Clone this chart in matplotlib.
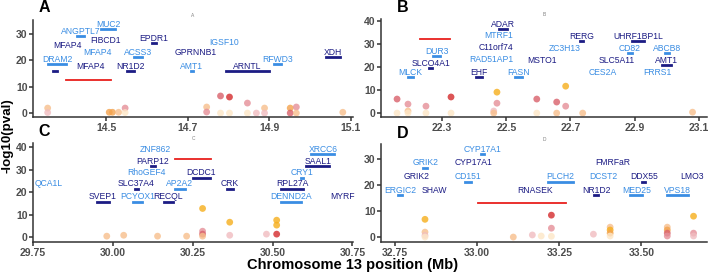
import numpy as np
import matplotlib
matplotlib.use("Agg")
import matplotlib.pyplot as plt

plt.rcParams['font.family'] = ['Liberation Sans', 'DejaVu Sans']

# ---- point colour groups ----
palette = {
    "pale": "#fde6c6",
    "lorange": "#f7bf8c",
    "orange": "#f3a24c",
    "gold": "#f6ae1c",
    "lpink": "#f0bcc0",
    "pink": "#e58f98",
    "rpink": "#d9616b",
    "red": "#d42a2c",
}
DARK = "#1c1c84"
LIGHT = "#3a8de3"

# ---- panel A: chr13 14.3-15.1 Mb ----
a_pt_x = [14.356, 14.356, 14.507, 14.515, 14.53, 14.546, 14.546, 14.746, 14.746, 14.78, 14.78,
          14.802, 14.802, 14.846, 14.846, 14.868, 14.888, 14.888, 14.951, 14.951, 14.966, 14.966, 15.08]
a_pt_y = [1.9, 0.2, 0.3, 0.3, 0.3, 1.9, 0.2, 2.3, 0.4, 6.5, 0.0,
          6.1, 0.0, 3.8, 0.0, 0.0, 1.9, 0.0, 1.9, 0.0, 2.3, 0.0, 0.3]
a_pt_g = ["lorange", "lpink", "orange", "orange", "lorange", "pink", "pale", "lorange", "pink", "rpink", "pale",
          "red", "pale", "pink", "pale", "lpink", "lorange", "lpink", "orange", "rpink", "pink", "lorange", "lorange"]
a_gene = ["ANGPTL7", "MUC2", "MFAP4", "FIBCD1", "MFAP4", "ACSS3", "EPDR1", "DRAM2", "", "MFAP4", "NR1D2",
          "GPRNNB1", "AMT1", "IGSF10", "ARNTL", "RFWD3", "XDH"]
a_start = [14.429, 14.488, 14.405, 14.498, 14.478, 14.568, 14.612, 14.356, 14.368, 14.461, 14.551,
           14.720, 14.707, 14.790, 14.793, 14.912, 15.039]
a_end = [14.446, 14.520, 14.405, 14.498, 14.478, 14.588, 14.622, 14.402, 14.380, 14.461, 14.568,
         14.720, 14.712, 14.790, 14.898, 14.929, 15.073]
a_level = [29.3, 31.8, 24.0, 25.9, 21.3, 21.3, 26.6, 18.6, 16.0, 16.0, 16.0,
           21.3, 16.0, 25.0, 16.0, 18.6, 21.3]
a_kind = ["L", "L", "D", "D", "L", "L", "D", "L", "D", "D", "D",
          "D", "L", "L", "D", "L", "D"]
a_region = (14.402, 14.512, 12.5)

# ---- panel B: chr13 22.1-23.1 Mb ----
b_pt_x = [22.16, 22.16, 22.194, 22.194, 22.194, 22.25, 22.25, 22.328, 22.328, 22.471, 22.471,
          22.461, 22.461, 22.595, 22.595, 22.657, 22.657, 22.685, 22.685, 22.738, 23.08]
b_pt_y = [6.1, 0.0, 3.9, 0.9, 0.0, 3.0, 0.0, 7.0, 0.0, 9.1, 4.3,
          0.9, 0.0, 6.1, 0.0, 4.8, 0.0, 11.7, 3.0, 0.0, 0.4]
b_pt_g = ["rpink", "pale", "pink", "lorange", "pale", "pink", "pale", "red", "pale", "gold", "pink",
          "lpink", "lorange", "rpink", "pale", "rpink", "lorange", "gold", "pink", "lorange", "lorange"]
b_gene = ["DUR3", "SLCO4A1", "MLCK", "ADAR", "MTRF1", "C11orf74", "RAD51AP1", "EHF", "FASN", "MSTO1",
          "RERG", "ZC3H13", "UHRF1BP1L", "CD82", "ABCB8", "SLC5A11", "AMT1", "CES2A", "FRRS1"]
b_start = [22.272, 22.260, 22.194, 22.477, 22.477, 22.468, 22.452, 22.406, 22.527, 22.610,
           22.729, 22.682, 22.890, 22.878, 22.993, 22.843, 22.986, 22.800, 22.971]
b_end = [22.294, 22.269, 22.210, 22.502, 22.477, 22.468, 22.452, 22.424, 22.548, 22.610,
         22.738, 22.682, 22.930, 22.893, 23.008, 22.843, 23.014, 22.800, 22.971]
b_level = [24.8, 19.6, 15.7, 36.5, 31.7, 26.5, 21.3, 15.7, 15.7, 20.9,
           31.3, 26.0, 31.3, 26.0, 26.0, 20.9, 20.9, 15.7, 15.7]
b_kind = ["L", "D", "L", "D", "L", "D", "L", "D", "L", "D",
          "D", "L", "D", "L", "L", "D", "D", "L", "L"]
b_region = (22.232, 22.325, 32.2)

# ---- panel C: chr13 29.75-30.75 Mb ----
c_pt_x = [29.981, 30.034, 30.14, 30.231, 30.281, 30.281, 30.281, 30.281, 30.366, 30.366,
          30.481, 30.513, 30.513, 30.513]
c_pt_y = [0.4, 0.8, 0.4, 0.4, 12.7, 2.6, 1.3, 0.4, 6.6, 0.8,
          1.3, 7.5, 5.3, 1.3]
c_pt_g = ["lorange", "lorange", "lorange", "lorange", "gold", "pink", "rpink", "lorange", "gold", "lpink",
          "lpink", "gold", "gold", "red"]
c_gene = ["QCA1L", "ZNF862", "PARP12", "RhoGEF4", "SLC37A4", "SVEP1", "PCYOX1", "RECQL", "AP2A2", "DCDC1",
          "CRK", "", "XRCC6", "SAAL1", "CRY1", "RPL27A", "DENND2A", "MYRF"]
c_start = [29.800, 30.134, 30.119, 30.106, 30.069, 29.950, 30.063, 30.160, 30.194, 30.250,
           30.356, 30.334, 30.622, 30.606, 30.590, 30.528, 30.525, 30.719]
c_end = [29.800, 30.134, 30.131, 30.106, 30.078, 29.988, 30.090, 30.188, 30.225, 30.303,
         30.375, 30.334, 30.694, 30.678, 30.597, 30.594, 30.588, 30.719]
c_level = [21.5, 36.9, 31.6, 26.4, 21.5, 15.8, 15.8, 15.8, 21.5, 26.4,
           21.5, 16.3, 36.9, 31.6, 26.4, 21.5, 15.8, 15.8]
c_kind = ["L", "L", "D", "L", "D", "D", "L", "D", "L", "D",
          "D", "L", "L", "D", "L", "D", "L", "D"]
c_region = (30.194, 30.306, 34.7)

# ---- panel D: chr13 32.7-33.7 Mb ----
d_pt_x = [32.841, 32.841, 32.841, 32.841, 33.11, 33.168, 33.195, 33.226, 33.226, 33.226, 33.354,
          33.405, 33.405, 33.405, 33.405, 33.579, 33.579, 33.579, 33.579, 33.659, 33.659, 33.659]
d_pt_y = [6.8, 1.9, 0.6, 0.0, 0.0, 0.8, 0.4, 8.4, 3.4, 0.3, 1.1,
          3.8, 2.7, 1.5, 0.4, 3.8, 2.7, 1.5, 0.4, 8.0, 1.5, 0.4]
d_pt_g = ["gold", "lorange", "lpink", "pale", "lorange", "lpink", "pale", "red", "pink", "pale", "lpink",
          "lorange", "gold", "orange", "pale", "lorange", "orange", "rpink", "pink", "gold", "pink", "lpink"]
d_gene = ["CYP17A1", "CYP17A1", "GRIK2", "GRIK2", "CD151", "ERGIC2", "SHAW", "RNASEK", "FMRFaR",
          "PLCH2", "DCST2", "DDX55", "LMO3", "NR1D2", "MED25", "VPS18"]
d_start = [33.012, 32.988, 32.835, 32.814, 32.963, 32.759, 32.869, 33.177, 33.412,
           33.216, 33.384, 33.503, 33.655, 33.357, 33.466, 33.579]
d_end = [33.021, 32.988, 32.848, 32.814, 32.982, 32.771, 32.869, 33.177, 33.412,
         33.293, 33.384, 33.512, 33.655, 33.369, 33.503, 33.643]
d_level = [31.9, 26.6, 26.6, 21.3, 21.3, 16.0, 16.0, 16.0, 26.6,
           21.3, 21.3, 21.3, 21.3, 16.0, 16.0, 16.0]
d_kind = ["L", "D", "L", "D", "L", "L", "D", "D", "D",
          "L", "L", "D", "D", "D", "L", "L"]
d_region = (33.003, 33.271, 12.9)

panels = [
    ("A", a_pt_x, a_pt_y, a_pt_g, a_gene, a_start, a_end, a_level, a_kind, a_region,
     (14.32, 15.105), (-1.5, 35.4), [14.5, 14.7, 14.9, 15.1], "%.1f", [0, 10, 20, 30]),
    ("B", b_pt_x, b_pt_y, b_pt_g, b_gene, b_start, b_end, b_level, b_kind, b_region,
     (22.11, 23.125), (-1.7, 40.9), [22.3, 22.5, 22.7, 22.9, 23.1], "%.1f", [0, 10, 20, 30, 40]),
    ("C", c_pt_x, c_pt_y, c_pt_g, c_gene, c_start, c_end, c_level, c_kind, c_region,
     (29.75, 30.752), (-2.2, 41.8), [29.75, 30.0, 30.25, 30.5, 30.75], "%.2f", [0, 10, 20, 30, 40]),
    ("D", d_pt_x, d_pt_y, d_pt_g, d_gene, d_start, d_end, d_level, d_kind, d_region,
     (32.707, 33.70), (-1.9, 35.7), [32.75, 33.0, 33.25, 33.5], "%.2f", [0, 10, 20, 30]),
]

W, H = 709, 272
fig = plt.figure(figsize=(W / 100, H / 100), dpi=100)

# axes boxes in pixels: left, right, top, bottom
boxes = [(33, 353, 20, 117), (381, 707, 19, 117), (33, 353, 143, 242), (381, 707, 144, 242)]

for (name, px, py, pg, genes, gs, ge, gl, gk, region, xl, yl, xt, fmt, yt), box in zip(panels, boxes):
    l, r, t, b = box
    ax = fig.add_axes([l / W, 1 - b / H, (r - l) / W, (b - t) / H])

    # association points
    ax.scatter(px, py, s=24, c=[palette[g] for g in pg], alpha=0.8, linewidths=0, zorder=2)

    # genes: span + label
    for g, s0, s1, lev, k in zip(genes, gs, ge, gl, gk):
        col = DARK if k == "D" else LIGHT
        ax.plot([s0, s1], [lev, lev], color=col, lw=2.0, solid_capstyle="projecting", zorder=3)
        if g:
            ax.annotate(g, ((s0 + s1) / 2, lev), xytext=(0, 1.6), textcoords="offset points",
                        ha="center", va="baseline", fontsize=6.2, color=col, zorder=4)

    # locus region
    ax.plot([region[0], region[1]], [region[2], region[2]], color="#e8201c", lw=1.3, zorder=3)

    ax.set_xlim(*xl)
    ax.set_ylim(*yl)
    ax.set_xticks(xt)
    ax.set_xticklabels([fmt % v for v in xt])
    ax.set_yticks(yt)
    for sp in ["top", "right"]:
        ax.spines[sp].set_visible(False)
    for sp in ["left", "bottom"]:
        ax.spines[sp].set_color("#333333")
        ax.spines[sp].set_linewidth(1.1)
    ax.tick_params(direction="out", length=3, width=1.1, color="#333333",
                   labelsize=7.5, labelcolor="#4d4d4d", pad=1)
    for lab in ax.get_xticklabels() + ax.get_yticklabels():
        lab.set_fontweight("bold")
    ax.set_title(name, fontsize=3.5, color="gray", pad=2)
    ax.patch.set_alpha(0)

# panel letters
for letter, x, y in [("A", 44, 8), ("B", 403, 8), ("C", 44, 132), ("D", 403, 133)]:
    fig.text(x / W, 1 - y / H, letter, fontsize=11.5, fontweight="bold", ha="center", va="center")

fig.text(8 / W, 1 - 136 / H, "-log10(pval)", rotation=90, fontsize=9.6, fontweight="bold",
         ha="center", va="center")
fig.text(353 / W, 1 - 264.5 / H, "Chromosome 13 position (Mb)", fontsize=10.5, fontweight="bold",
         ha="center", va="center")

fig.savefig("out.png", dpi=100)
